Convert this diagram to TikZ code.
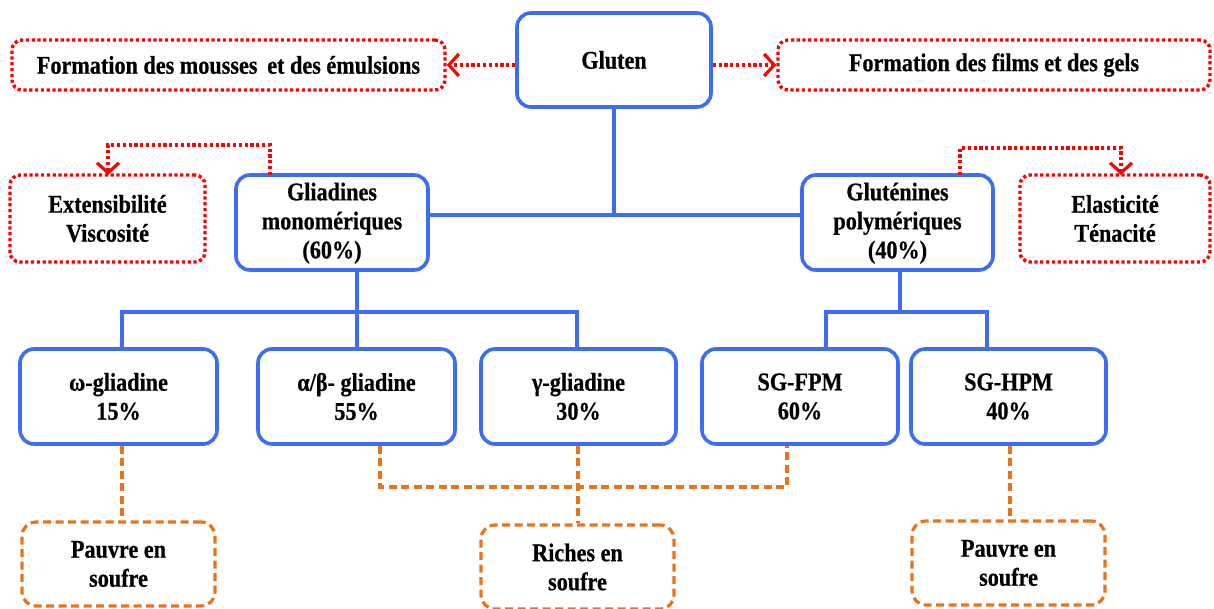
\documentclass[tikz,border=0pt]{standalone}
\usepackage{fontspec}
\setmainfont[FakeStretch=0.87,FakeBold=0.6]{Liberation Serif}
\usetikzlibrary{arrows.meta}
\definecolor{cblue}{RGB}{59,110,245}
\definecolor{cred}{RGB}{255,0,0}
\definecolor{corange}{RGB}{232,115,26}
\begin{document}
\begin{tikzpicture}[x=1pt,y=-1pt,
  every node/.style={font=\fontsize{25.5}{29}\selectfont\bfseries, align=center, inner sep=0pt},
  bluebox/.style={draw=cblue, line width=3.6pt, rounded corners=14pt},
  redbox/.style={draw=cred, line width=3.4pt, rounded corners=10pt, dash pattern=on 3.2pt off 2.6pt},
  orbox/.style={draw=corange, line width=3.2pt, rounded corners=14pt, dash pattern=on 8pt off 4.5pt},
  blueline/.style={draw=cblue, line width=3.6pt},
  redline/.style={draw=cred, line width=3.4pt, dash pattern=on 3.2pt off 2.6pt, -{Straight Barb[length=10pt,width=22pt,line width=3.2pt]}},
  orline/.style={draw=corange, line width=3.2pt, dash pattern=on 8pt off 4.5pt}
]
\useasboundingbox (0,0) rectangle (1214,608);
% top
\node[bluebox, minimum width=194pt, minimum height=94pt] (glu) at (614,60) {\raisebox{-2pt}{Gluten}};
\node[redbox, minimum width=433pt, minimum height=50pt] (mous) at (228.5,65) {Formation des mousses\, et des émulsions};
\node[redbox, minimum width=432pt, minimum height=50pt] (film) at (994,65) {Formation des films et des gels};
\draw[redline] (glu.west |- mous.east) -- (mous.east);
\draw[redline] (glu.east |- film.west) -- (film.west);
% second row
\node[bluebox, minimum width=192pt, minimum height=95pt, text depth=4pt] (glia) at (332,222.5) {Gliadines\\monomériques\\(60\%)};
\node[bluebox, minimum width=191pt, minimum height=95pt, text depth=4pt] (glut) at (897.5,222.5) {Gluténines\\polymériques\\(40\%)};
\node[redbox, minimum width=195pt, minimum height=87pt] (ext) at (107.5,218.5) {Extensibilité\\Viscosité};
\node[redbox, minimum width=190pt, minimum height=87pt] (ela) at (1115,218.5) {Elasticité\\Ténacité};
\coordinate (j1) at (614,215);
\draw[blueline] (glu.south) -- (j1);
\draw[blueline] (glia.east |- j1) -- (glut.west |- j1);
\coordinate (r1) at (270,175);
\coordinate (r1t) at (108,175);
\coordinate (r2) at (960,175);
\coordinate (r2t) at (1121,175);
\draw[redline] (r1) -- ++(0,-30) -| (r1t);
\draw[redline] (r2) -- ++(0,-27) -| (r2t);
% third row
\node[bluebox, minimum width=197pt, minimum height=95pt] (om) at (118.5,396.5) {ω-gliadine\\15\%};
\node[bluebox, minimum width=197pt, minimum height=95pt] (ab) at (356.5,396.5) {α/β- gliadine\\55\%};
\node[bluebox, minimum width=195pt, minimum height=95pt] (ga) at (578.5,396.5) {γ-gliadine\\30\%};
\node[bluebox, minimum width=196pt, minimum height=95pt] (fpm) at (800,396.5) {SG-FPM\\60\%};
\node[bluebox, minimum width=195pt, minimum height=95pt] (hpm) at (1008.5,396.5) {SG-HPM\\40\%};
\coordinate (b1) at (357,312);
\coordinate (b2) at (900,312);
\draw[blueline] (glia.south -| b1) -- (b1);
\draw[blueline] (122,349) |- (577,312) -- (577,349);
\draw[blueline] (b1) -- (ab.north -| b1);
\draw[blueline] (glut.south -| b2) -- (b2);
\draw[blueline] (826,349) |- (987,312) -- (987,349);
% bottom row
\node[orbox, minimum width=193pt, minimum height=84pt] (p1) at (118.5,564) {Pauvre en\\soufre};
\node[orbox, minimum width=193pt, minimum height=84pt] (ri) at (577.5,567) {Riches en\\soufre};
\node[orbox, minimum width=193pt, minimum height=84pt] (p2) at (1008.5,563) {Pauvre en\\soufre};
\draw[orline] (om.south -| 122,0) -- (p1.north -| 122,0);
\draw[orline] (ab.south -| 380,0) |- (787,487) -- (fpm.south -| 787,0);
\draw[orline] (ga.south -| 578,0) -- (ri.north -| 578,0);
\draw[orline] (hpm.south -| 1010,0) -- (p2.north -| 1010,0);
\end{tikzpicture}
\end{document}
